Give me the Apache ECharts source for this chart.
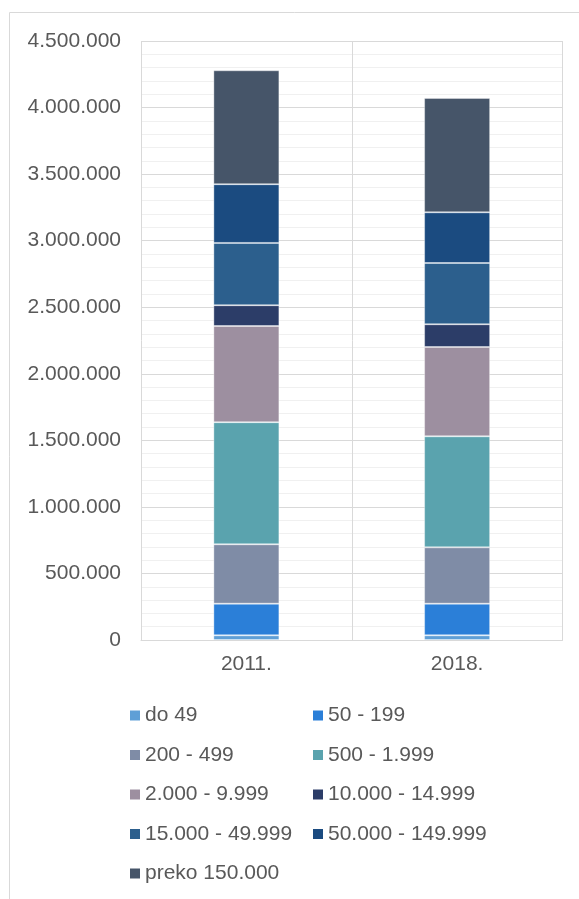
<!DOCTYPE html>
<html>
<head>
<meta charset="utf-8">
<style>
  html, body { margin: 0; padding: 0; background: #fff; }
  #chart { width: 579px; height: 899px; }
</style>
<script src="https://cdn.jsdelivr.net/npm/echarts@6/dist/echarts.min.js"></script>
</head>
<body>
<div id="chart"></div>
<script>
const categories = ['2011.', '2018.'];
const seriesNames = ['do 49', '50 - 199', '200 - 499', '500 - 1.999', '2.000 - 9.999',
  '10.000 - 14.999', '15.000 - 49.999', '50.000 - 149.999', 'preko 150.000'];
const do49 = [35000, 35000];
const s50_199 = [238000, 238000];
const s200_499 = [446000, 423000];
const s500_1999 = [917000, 834000];
const s2000_9999 = [723000, 671000];
const s10000_14999 = [156000, 171000];
const s15000_49999 = [468000, 460000];
const s50000_149999 = [441000, 381000];
const preko150000 = [856000, 859000];
const yTicks = [0, 500000, 1000000, 1500000, 2000000, 2500000, 3000000, 3500000, 4000000, 4500000];

const seriesValues = [do49, s50_199, s200_499, s500_1999, s2000_9999,
  s10000_14999, s15000_49999, s50000_149999, preko150000];
const colors = ['#5f9fd6', '#2b7fd8', '#7f8ca6', '#5aa3ae', '#9d8fa0',
  '#2c3d68', '#2c5f8d', '#1b4b80', '#465569'];

const fmt = v => String(v).replace(/\B(?=(\d{3})+(?!\d))/g, '.');

const chart = echarts.init(document.getElementById('chart'), null, { renderer: 'canvas' });
const font = 'Liberation Sans, Arial, sans-serif';
const legendText = { fontSize: 21, color: '#595959', fontFamily: font };
const legendItemStyle = { borderWidth: 0 };

chart.setOption({
  animation: false,
  color: colors,
  graphic: [{
    type: 'rect',
    shape: { x: 9.5, y: 12.5, width: 600, height: 900 },
    style: { fill: 'none', stroke: '#d9d9d9', lineWidth: 1 },
    silent: true
  }],
  grid: { left: 141, right: 16.5, top: 41, bottom: 259, containLabel: false },
  legend: [
    {
      orient: 'vertical', left: 125, top: 700, itemWidth: 10, itemHeight: 10, itemGap: 18.5,
      icon: 'rect', textStyle: legendText, itemStyle: legendItemStyle,
      data: [seriesNames[0], seriesNames[2], seriesNames[4], seriesNames[6], seriesNames[8]]
    },
    {
      orient: 'vertical', left: 308, top: 700, itemWidth: 10, itemHeight: 10, itemGap: 18.5,
      icon: 'rect', textStyle: legendText, itemStyle: legendItemStyle,
      data: [seriesNames[1], seriesNames[3], seriesNames[5], seriesNames[7]]
    }
  ],
  xAxis: {
    type: 'category',
    data: categories,
    axisLine: { lineStyle: { color: '#d9d9d9', width: 1 } },
    axisTick: { show: false },
    axisLabel: { fontSize: 21, color: '#595959', fontFamily: font, margin: 14 },
    splitLine: { show: true, lineStyle: { color: '#d9d9d9', width: 1 } }
  },
  yAxis: {
    type: 'value',
    min: yTicks[0],
    max: yTicks[yTicks.length - 1],
    interval: yTicks[1] - yTicks[0],
    axisLine: { show: false },
    axisTick: { show: false },
    axisLabel: { fontSize: 21, color: '#595959', fontFamily: font, margin: 20, formatter: fmt },
    splitLine: { lineStyle: { color: '#d9d9d9', width: 1 } },
    minorTick: { show: false, splitNumber: 5 },
    minorSplitLine: { show: true, lineStyle: { color: '#f0f0f0', width: 1 } }
  },
  series: seriesNames.map((name, i) => ({
    name: name,
    type: 'bar',
    stack: 'total',
    barWidth: 66,
    data: seriesValues[i],
    itemStyle: { color: colors[i], borderColor: 'rgba(255,255,255,0.35)', borderWidth: 1 }
  }))
});
</script>
</body>
</html>
